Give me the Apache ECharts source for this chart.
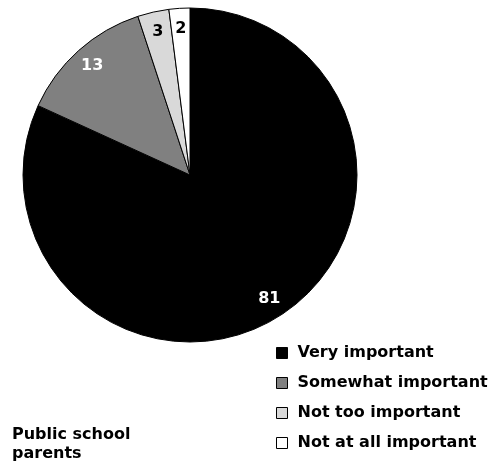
<!DOCTYPE html>
<html>
<head>
<meta charset="utf-8">
<script src="https://cdn.jsdelivr.net/npm/echarts@6/dist/echarts.min.js"></script>
<style>html,body{margin:0;padding:0;background:#fff}#c{width:493px;height:464px}</style>
</head>
<body>
<div id="c"></div>
<script>
var categories = ['Very important', 'Somewhat important', 'Not too important', 'Not at all important'];
var values = [81, 13, 3, 2];
var colors = ['#000000', '#808080', '#d9d9d9', '#ffffff'];
var labelColors = ['#ffffff', '#ffffff', '#000000', '#000000'];
var titleText = 'Public school\nparents';

var FONT = '"DejaVu Sans", sans-serif';
var R = 167;
var chart = echarts.init(document.getElementById('c'));
var pieData = categories.map(function (c, i) {
  return { name: c, value: values[i], itemStyle: { color: colors[i] } };
});
var labelData = categories.map(function (c, i) {
  return { name: c, value: values[i], label: { color: labelColors[i] } };
});
chart.setOption({
  animation: false,
  title: {
    text: titleText, left: 12, top: 425, padding: 0,
    textStyle: { fontFamily: FONT, fontWeight: 'bold', fontSize: 16, color: '#000', lineHeight: 19 }
  },
  legend: {
    orient: 'vertical', left: 276, top: 344, padding: 0, height: 130,
    itemWidth: 11, itemHeight: 11, itemGap: 12, icon: 'rect',
    data: categories.map(function (c, i) {
      return { name: c, itemStyle: { color: colors[i], borderColor: '#000', borderWidth: 1 } };
    }),
    textStyle: { fontFamily: FONT, fontWeight: 'bold', fontSize: 16, color: '#000', lineHeight: 18, padding: [0, 0, 0, 5] },
    selectedMode: false
  },
  series: [{
    type: 'pie', center: [190, 175], radius: [0, R], startAngle: 90, clockwise: true,
    data: pieData, label: { show: false }, labelLine: { show: false },
    itemStyle: { borderColor: '#000', borderWidth: 1 }, silent: true
  }, {
    type: 'pie', center: [190, 175], radius: [0.72 * R, R], startAngle: 90, clockwise: true,
    data: labelData, silent: true,
    itemStyle: { color: 'rgba(0,0,0,0)', borderWidth: 0 },
    label: { show: true, position: 'inside', formatter: '{c}', fontFamily: FONT, fontWeight: 'bold', fontSize: 16 },
    labelLine: { show: false }
  }]
});
</script>
</body>
</html>
